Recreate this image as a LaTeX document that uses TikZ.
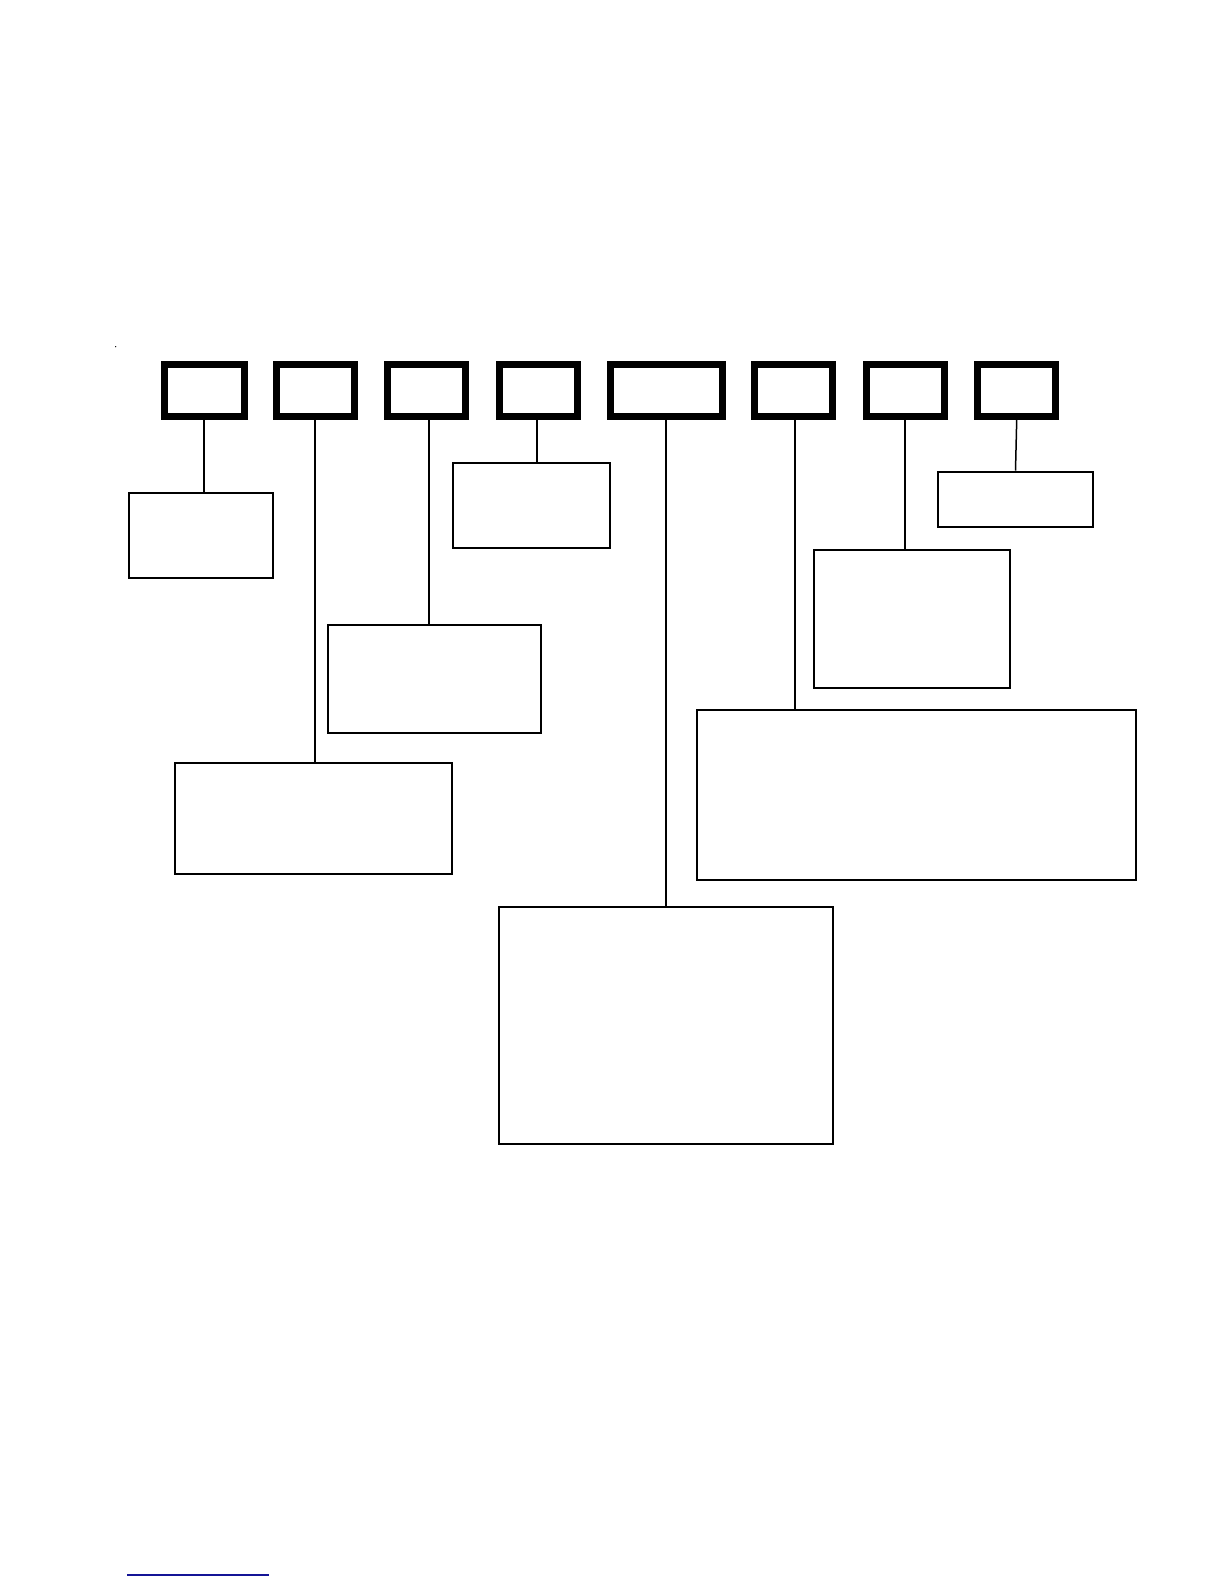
\documentclass[tikz,border=0pt]{standalone}
\usetikzlibrary{positioning}
\definecolor{linkblue}{RGB}{20,20,150}
\begin{document}
\begin{tikzpicture}[x=1pt,y=-1pt,
  topbox/.style={draw=black,line width=7pt,inner sep=0pt,minimum height=52pt},
  lowbox/.style={draw=black,line width=2pt,inner sep=0pt},
  conn/.style={draw=black,line width=2pt}]
\useasboundingbox[fill=white] (0,0) rectangle (1224,1584);
% top row of heavy boxes
\node[topbox,minimum width=79.7pt] (t1) at (204.3,390.5) {};
\node[topbox,minimum width=77.7pt] (t2) at (315.3,390.5) {};
\node[topbox,minimum width=77.7pt] (t3) at (426.3,390.5) {};
\node[topbox,minimum width=77.7pt] (t4) at (538.3,390.5) {};
\node[topbox,minimum width=111.7pt] (t5) at (666.3,390.5) {};
\node[topbox,minimum width=77.7pt] (t6) at (793.3,390.5) {};
\node[topbox,minimum width=77.7pt] (t7) at (905.3,390.5) {};
\node[topbox,minimum width=77.7pt] (t8) at (1016.3,390.5) {};
% lower boxes
\node[lowbox,minimum width=144.6pt,minimum height=84.4pt] (b1) at (201,535.5) {};
\node[lowbox,minimum width=277.3pt,minimum height=111pt] (b2) at (313.3,818.5) {};
\node[lowbox,minimum width=213pt,minimum height=108.3pt] (b3) at (434.5,678.8) {};
\node[lowbox,minimum width=157.3pt,minimum height=85.6pt] (b4) at (531.3,505.5) {};
\node[lowbox,minimum width=334.3pt,minimum height=237.3pt] (b5) at (665.8,1025.3) {};
\node[lowbox,minimum width=439.3pt,minimum height=169.7pt] (b6) at (916.3,794.8) {};
\node[lowbox,minimum width=196.3pt,minimum height=138pt] (b7) at (911.8,619) {};
\node[lowbox,minimum width=155.6pt,minimum height=55.3pt] (b8) at (1015.5,499.3) {};
% connectors
\draw[conn] (t1.south) -- (t1.south |- b1.north);
\draw[conn] (t2.south) -- (t2.south |- b2.north);
\draw[conn] ([xshift=2.7pt]t3.south) -- ([xshift=2.7pt]t3.south |- b3.north);
\draw[conn] ([xshift=-1.6pt]t4.south) -- ([xshift=-1.6pt]t4.south |- b4.north);
\draw[conn] (t5.south) -- (t5.south |- b5.north);
\draw[conn] ([xshift=1.7pt]t6.south) -- ([xshift=1.7pt]t6.south |- b6.north);
\draw[conn] (t7.south) -- (t7.south |- b7.north);
\draw[conn,line width=1.5pt] ([xshift=0.4pt]t8.south) -- (b8.north);
% stray dot and blue rule
\coordinate (dot) at (115.7,346.7);
\fill[black] (dot) circle (0.7pt);
\coordinate (ruleL) at (127.3,1575);
\coordinate (ruleR) at (269,1575);
\draw[linkblue,line width=1.5pt] (ruleL) -- (ruleR);
\end{tikzpicture}
\end{document}
